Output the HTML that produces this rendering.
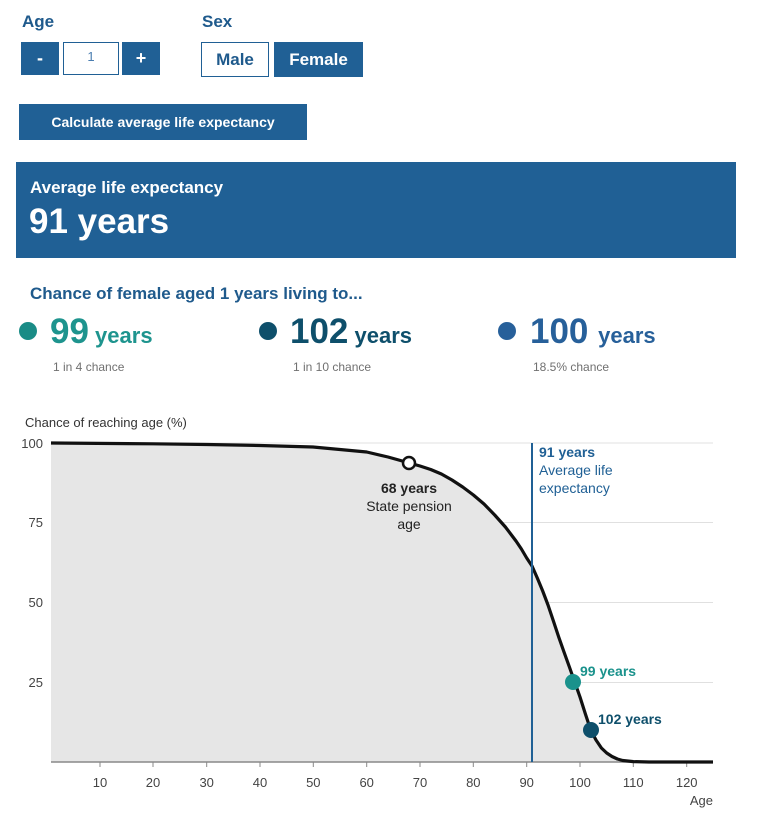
<!DOCTYPE html>
<html><head><meta charset="utf-8"><style>
body{margin:0;width:766px;height:824px;background:#fff;font-family:"Liberation Sans",sans-serif;position:relative;overflow:hidden}
.a{position:absolute}
.lbl{font-weight:bold;color:#1f5a8c;font-size:17px}
.btn{background:#206095;color:#fff;font-weight:bold;text-align:center;box-sizing:border-box}
</style></head><body>
<div class="a lbl" style="left:22px;top:12px">Age</div>
<div class="a lbl" style="left:202px;top:12px">Sex</div>
<div class="a btn" style="left:21px;top:42px;width:38px;height:33px;line-height:33px;font-size:18px">-</div>
<div class="a" style="left:63px;top:42px;width:56px;height:33px;border:1px solid #206095;box-sizing:border-box;text-align:center;line-height:28px;color:#4a7db0;font-size:13px">1</div>
<div class="a btn" style="left:122px;top:42px;width:38px;height:33px;line-height:33px;font-size:18px">+</div>
<div class="a" style="left:201px;top:42px;width:68px;height:35px;border:1px solid #206095;box-sizing:border-box;text-align:center;line-height:33px;color:#1f5a8c;font-weight:bold;font-size:17px">Male</div>
<div class="a btn" style="left:274px;top:42px;width:89px;height:35px;line-height:35px;font-size:17px">Female</div>
<div class="a btn" style="left:19px;top:104px;width:288px;height:36px;line-height:36px;font-size:14px">Calculate average life expectancy</div>
<div class="a" style="left:16px;top:162px;width:720px;height:96px;background:#206095;color:#fff">
<div class="a" style="left:14px;top:16px;font-weight:bold;font-size:17px">Average life expectancy</div>
<div class="a" style="left:13px;top:40px;font-weight:bold;font-size:35px">91 years</div></div>
<div class="a lbl" style="left:30px;top:284px;font-size:17px">Chance of female aged 1 years living to...</div>
<div class="a" style="left:19px;top:322px;width:18px;height:18px;border-radius:50%;background:#1a8c86"></div>
<div class="a" style="left:50px;top:312px;color:#1e948e;font-weight:bold;font-size:35px;white-space:nowrap">99<span style="font-size:22px"> years</span></div>
<div class="a" style="left:53px;top:360px;color:#707070;font-size:12px">1 in 4 chance</div>
<div class="a" style="left:259px;top:322px;width:18px;height:18px;border-radius:50%;background:#0e4f6b"></div>
<div class="a" style="left:290px;top:312px;color:#0e4f6b;font-weight:bold;font-size:35px;white-space:nowrap">102<span style="font-size:22px"> years</span></div>
<div class="a" style="left:293px;top:360px;color:#707070;font-size:12px">1 in 10 chance</div>
<div class="a" style="left:498px;top:322px;width:18px;height:18px;border-radius:50%;background:#27609a"></div>
<div class="a" style="left:530px;top:312px;color:#27609a;font-weight:bold;font-size:35px;white-space:nowrap">100 <span style="font-size:22px">years</span></div>
<div class="a" style="left:533px;top:360px;color:#707070;font-size:12px">18.5% chance</div>
<svg class="a" style="left:0;top:0" width="766" height="824" font-family="Liberation Sans, sans-serif">
<text x="25" y="427" font-size="13" fill="#333">Chance of reaching age (%)</text>
<g stroke="#e0e0e0" stroke-width="1">
<line x1="51" x2="713" y1="443" y2="443"/><line x1="51" x2="713" y1="522.5" y2="522.5"/><line x1="51" x2="713" y1="602.5" y2="602.5"/><line x1="51" x2="713" y1="682.5" y2="682.5"/></g>
<g font-size="13" fill="#444" text-anchor="end"><text x="43" y="448">100</text><text x="43" y="527">75</text><text x="43" y="607">50</text><text x="43" y="687">25</text></g>
<polygon fill="#e6e6e6" points="51,762 51,443 153,443.8 206.7,444.5 260,445.5 313,447 366.7,452 388,457 398.7,460 409.3,463 420,466 430.7,469.5 441.4,474 452,480 462.7,487 473.4,495 484,504 494.7,515 505.4,527 516,541 521.4,549 526.7,558 532,566 537.3,578 542.7,591 548,605 553.4,621 558.7,637 564,652 569.4,667 574.7,682 580,697 585.4,714 590.7,730 596,740 601.4,748 606.7,753 612,756.5 617.4,759 622.7,760.5 633.4,761.6 649,762 713,762"/>
<line x1="51" x2="713" y1="762" y2="762" stroke="#888" stroke-width="1.5"/>
<g stroke="#888"><line x1="100" x2="100" y1="762" y2="767"/><line x1="153" x2="153" y1="762" y2="767"/><line x1="206.7" x2="206.7" y1="762" y2="767"/><line x1="260" x2="260" y1="762" y2="767"/><line x1="313.3" x2="313.3" y1="762" y2="767"/><line x1="366.7" x2="366.7" y1="762" y2="767"/><line x1="420" x2="420" y1="762" y2="767"/><line x1="473.3" x2="473.3" y1="762" y2="767"/><line x1="526.7" x2="526.7" y1="762" y2="767"/><line x1="580" x2="580" y1="762" y2="767"/><line x1="633.3" x2="633.3" y1="762" y2="767"/><line x1="686.7" x2="686.7" y1="762" y2="767"/></g>
<g font-size="13" fill="#444" text-anchor="middle"><text x="100" y="787">10</text><text x="153" y="787">20</text><text x="206.7" y="787">30</text><text x="260" y="787">40</text><text x="313.3" y="787">50</text><text x="366.7" y="787">60</text><text x="420" y="787">70</text><text x="473.3" y="787">80</text><text x="526.7" y="787">90</text><text x="580" y="787">100</text><text x="633.3" y="787">110</text><text x="686.7" y="787">120</text></g>
<text x="713" y="805" font-size="13" fill="#444" text-anchor="end">Age</text>
<polyline fill="none" stroke="#111" stroke-width="3.2" stroke-linejoin="round" points="51,443 153,443.8 206.7,444.5 260,445.5 313,447 366.7,452 388,457 398.7,460 409.3,463 420,466 430.7,469.5 441.4,474 452,480 462.7,487 473.4,495 484,504 494.7,515 505.4,527 516,541 521.4,549 526.7,558 532,566 537.3,578 542.7,591 548,605 553.4,621 558.7,637 564,652 569.4,667 574.7,682 580,697 585.4,714 590.7,730 596,740 601.4,748 606.7,753 612,756.5 617.4,759 622.7,760.5 633.4,761.6 649,762 713,762"/>
<line x1="532" x2="532" y1="443" y2="762" stroke="#206095" stroke-width="2"/>
<text x="539" y="457" font-size="14" font-weight="bold" fill="#206095">91 years</text>
<text x="539" y="475" font-size="14" fill="#206095">Average life</text>
<text x="539" y="493" font-size="14" fill="#206095">expectancy</text>
<circle cx="409" cy="463" r="6" fill="#fff" stroke="#111" stroke-width="2.5"/>
<g font-size="14" fill="#222" text-anchor="middle"><text x="409" y="493" font-weight="bold">68 years</text><text x="409" y="511">State pension</text><text x="409" y="529">age</text></g>
<circle cx="573" cy="682" r="8" fill="#1a928c"/>
<text x="580" y="676" font-size="14" font-weight="bold" fill="#1a928c">99 years</text>
<circle cx="591" cy="730" r="8" fill="#0e4f6b"/>
<text x="598" y="724" font-size="14" font-weight="bold" fill="#0e4f6b">102 years</text>
</svg>
</body></html>
